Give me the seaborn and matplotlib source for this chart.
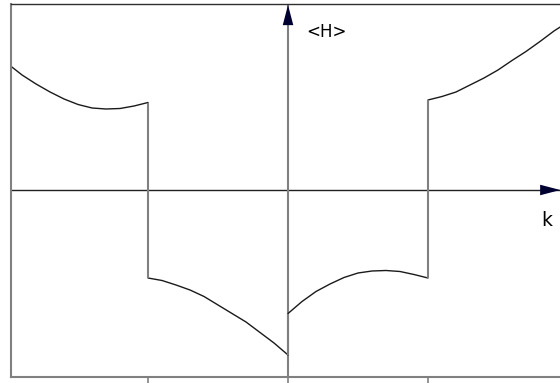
import numpy as np
import pandas as pd
import matplotlib
matplotlib.use("Agg")
import matplotlib.pyplot as plt
import seaborn as sns

# Mean energy <H> against wavenumber k, one branch per zone
k_zone1 = [-2.0, -1.9, -1.8, -1.7, -1.6, -1.5, -1.4, -1.3, -1.2, -1.1, -1.0]
h_zone1 = [2.52, 2.30, 2.12, 1.96, 1.82, 1.71, 1.64, 1.62, 1.63, 1.68, 1.75]

k_zone2 = [-1.0, -0.9, -0.8, -0.7, -0.6, -0.5, -0.4, -0.3, -0.2, -0.1, 0.0]
h_zone2 = [-1.76, -1.81, -1.90, -2.00, -2.13, -2.30, -2.47, -2.64, -2.85, -3.06, -3.30]

k_zone3 = [0.0, 0.1, 0.2, 0.3, 0.4, 0.5, 0.6, 0.7, 0.8, 0.9, 1.0]
h_zone3 = [-2.47, -2.23, -2.03, -1.88, -1.75, -1.66, -1.62, -1.61, -1.63, -1.69, -1.76]

k_zone4 = [1.0, 1.1, 1.2, 1.3, 1.4, 1.5, 1.6, 1.7, 1.8, 1.9, 2.0]
h_zone4 = [1.80, 1.87, 1.96, 2.10, 2.24, 2.40, 2.59, 2.77, 2.97, 3.18, 3.36]

tick_positions = [-1, 0, 1]
x_label = "k"
y_label = "<H>"

zones = [(k_zone1, h_zone1), (k_zone2, h_zone2), (k_zone3, h_zone3), (k_zone4, h_zone4)]
df = pd.concat(
    [pd.DataFrame({"k": ks, "H": hs, "zone": i}) for i, (ks, hs) in enumerate(zones)],
    ignore_index=True,
)

sns.set_style("white")
plt.rcParams["font.family"] = ["DejaVu Sans"]

W, H = 560, 383
fig = plt.figure(figsize=(W / 100, H / 100), dpi=100)
ax = fig.add_axes([11 / W, 6 / H, (W - 11) / W, 373 / H])

sns.lineplot(data=df, x="k", y="H", units="zone", estimator=None,
             color="#1a1a1a", linewidth=1.0, ax=ax, legend=False)

# vertical jumps between neighbouring branches
for (ka, ha), (kb, hb) in zip(zones[:-1], zones[1:]):
    ax.vlines(ka[-1], ha[-1], hb[0], color="#808080", linewidth=1.5, zorder=3)

ax.set_xlim(-1.979, 1.943)
ax.set_ylim(-3.74, 3.72)

# coordinate axes through the origin with arrowheads
ax.axhline(0, color="#202020", linewidth=1.0, zorder=1)
ax.axvline(0, color="#808080", linewidth=1.5, zorder=1)
head = "-|>,head_length=1.45,head_width=0.38"
ax.annotate("", xy=(0, 3.70), xytext=(0, 3.0),
            arrowprops=dict(arrowstyle=head, color="#000030", lw=0.0,
                            shrinkA=0, shrinkB=0))
ax.annotate("", xy=(1.945, 0), xytext=(1.6, 0),
            arrowprops=dict(arrowstyle=head, color="#000030", lw=0.0,
                            shrinkA=0, shrinkB=0))
ax.text(0.13, 3.16, y_label, fontsize=12, color="black", ha="left", va="center")
ax.text(1.81, -0.62, x_label, fontsize=13.5, color="black", ha="left", va="center")

# frame: gray left/bottom, thin dark top, no right side
ax.spines["right"].set_visible(False)
ax.spines["left"].set_color("#808080")
ax.spines["left"].set_linewidth(1.5)
ax.spines["bottom"].set_color("#808080")
ax.spines["bottom"].set_linewidth(1.5)
ax.spines["top"].set_color("#303030")
ax.spines["top"].set_linewidth(1.0)

ax.set_xticks(tick_positions)
ax.set_xticklabels([])
ax.set_yticks([])
ax.tick_params(axis="x", direction="out", length=4, width=1.2, color="#808080", bottom=True)
ax.set_xlabel("")
ax.set_ylabel("")

fig.savefig("out.png", dpi=100)
